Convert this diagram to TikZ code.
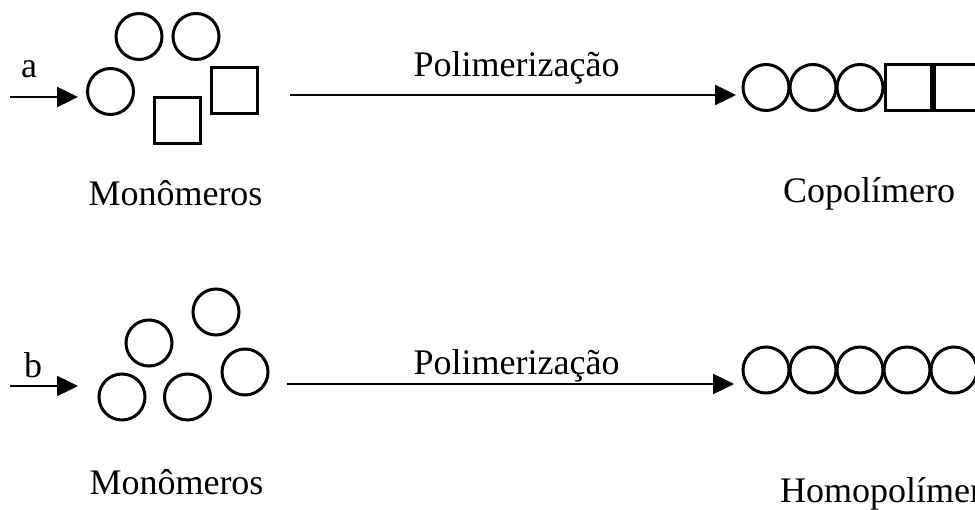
\documentclass[tikz,border=0pt]{standalone}
\usepackage{fontspec}
\setmainfont{Liberation Serif}
\usetikzlibrary{arrows.meta}
\begin{document}
\begin{tikzpicture}[x=1pt,y=-1pt,
  circ/.style={draw,circle,line width=3pt,minimum size=46pt,inner sep=0pt},
  sqr/.style={draw,rectangle,line width=3pt,minimum size=46pt,inner sep=0pt},
  arr/.style={line width=2.5pt,-{Triangle[length=21pt,width=20pt]}},
  lbl/.style={anchor=base,inner sep=0pt,font=\fontsize{36}{40}\selectfont},
  small/.style={anchor=base,inner sep=0pt,font=\fontsize{36}{40}\selectfont}]
\useasboundingbox (0,0) rectangle (975,510);
\clip (0,0) rectangle (975,510);
% ---- row a ----
\coordinate (sa) at (10,97);
\node[small] (la) at (29,78) {a};
\node[circ] (a1) at (110.5,91.5) {};
\node[circ] (a2) at (139,36.5) {};
\node[circ] (a3) at (196,36.5) {};
\node[sqr] (a4) at (177.5,121) {};
\node[sqr] (a5) at (234,91) {};
\draw[arr] (sa) -- (78,97) coordinate (ea);
\coordinate (pa) at (290,95);
\node[circ] (k1) at (766,87.5) {};
\node[circ] (k2) at (813,87.5) {};
\node[circ] (k3) at (860,87.5) {};
\node[sqr] (k4) at (908.5,87.5) {};
\node[sqr] (k5) at (957.5,87.5) {};
\coordinate (qa) at (736,95);
\draw[arr] (pa) -- (qa);
\node[lbl] (pol1) at (516.5,77) {Polimerização};
\node[lbl] (mon1) at (175.5,206) {Monômeros};
\node[lbl] (cop) at (869,203) {Copolímero};
% ---- row b ----
\coordinate (sb) at (10,386);
\node[small] (lb) at (33,378) {b};
\node[circ] (b1) at (122,397) {};
\node[circ] (b2) at (149,343) {};
\node[circ] (b3) at (216,312) {};
\node[circ] (b4) at (187.5,397) {};
\node[circ] (b5) at (245,372) {};
\draw[arr] (sb) -- (78,386) coordinate (eb);
\coordinate (pb) at (287,384);
\node[circ] (h1) at (766,370) {};
\node[circ] (h2) at (813,370) {};
\node[circ] (h3) at (860,370) {};
\node[circ] (h4) at (907,370) {};
\node[circ] (h5) at (954,370) {};
\coordinate (qb) at (734,384);
\draw[arr] (pb) -- (qb);
\node[lbl] (pol2) at (516.5,375) {Polimerização};
\node[lbl] (mon2) at (176.5,494) {Monômeros};
\node[lbl,anchor=base west] (hom) at (780,502) {Homopolímero};
\end{tikzpicture}
\end{document}
